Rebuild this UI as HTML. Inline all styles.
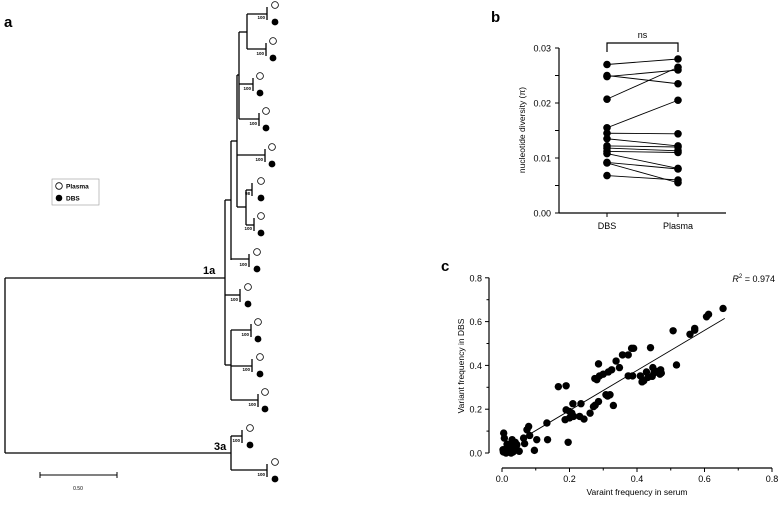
<!DOCTYPE html>
<html><head><meta charset="utf-8"><style>
body{margin:0;background:#fff;}
svg{display:block;font-family:"Liberation Sans",Arial,sans-serif;}
</style></head><body>
<svg id="fig" width="780" height="518" viewBox="0 0 780 518">
<g id="tree" stroke="#000" stroke-width="1.3" fill="none"></g>
<text x="4" y="27" font-size="15" font-weight="bold">a</text>
<text x="491" y="22" font-size="15" font-weight="bold">b</text>
<text x="441" y="271" font-size="15" font-weight="bold">c</text>
<g>
<rect x="52" y="179" width="47" height="26" fill="#fff" stroke="#999" stroke-width="0.6"/>
<circle cx="59" cy="186" r="3.3" fill="#fff" stroke="#000" stroke-width="0.8"/>
<text x="66" y="188.5" font-size="6.5" font-weight="bold">Plasma</text>
<circle cx="59" cy="198" r="3.3" fill="#000"/>
<text x="66" y="200.5" font-size="6.5" font-weight="bold">DBS</text>
</g>
<g>
<line x1="40" y1="475" x2="117" y2="475" stroke="#000" stroke-width="1"/>
<line x1="40" y1="472" x2="40" y2="478" stroke="#000" stroke-width="1"/>
<line x1="117" y1="472" x2="117" y2="478" stroke="#000" stroke-width="1"/>
<text x="78" y="490" font-size="5" text-anchor="middle">0.50</text>
</g>
<text x="203" y="274" font-size="11" font-weight="bold">1a</text>
<text x="214" y="450" font-size="11" font-weight="bold">3a</text>
<g id="pb"></g>
<g id="pc"></g>
</svg>
<script>
const pairOpenY=[5,41,76,111,147,181,216,252,287,322,357,392,428,462];
const pairVx=[267,266,253,259,265,252,254,249,240,251,252,258,242,267];
const pairCx=[275,273,260,266,272,261,261,257,248,258,260,265,250,275];
const pairBoot=["100","100","100","100","100","98","100","100","100","100","100","100","100","100"];
const NS="http://www.w3.org/2000/svg";
function mk(tag,attrs,parent){const e=document.createElementNS(NS,tag);for(const k in attrs)e.setAttribute(k,attrs[k]);parent.appendChild(e);return e;}
const fig=document.getElementById('fig');
const tree=document.getElementById('tree');
function seg(x1,y1,x2,y2){const l=mk('line',{x1,y1,x2,y2},tree);

}
for(let i=0;i<pairOpenY.length;i++){
 const yo=pairOpenY[i],yf=yo+17,vx=pairVx[i],cx=pairCx[i];
 seg(vx,yo+2,vx,yf-2);
 const o=mk('circle',{cx,cy:yo,r:3.4,fill:'#fff',stroke:'#000','stroke-width':0.8},fig);
 
 
 const f=mk('circle',{cx,cy:yf,r:3.4,fill:'#000'},fig);
 
 
 const t=mk('text',{x:vx-2,y:yf-3,'font-size':4.5,'text-anchor':'end','font-weight':'bold'},fig);
 t.textContent=pairBoot[i];
 
 
}
seg(5,278,5,453); seg(5,278,225,278); seg(5,453,231,453);
seg(231,436,231,470); seg(231,436,242,436); seg(231,470,267,470);
seg(225,200,225,365); seg(225,200,231,200); seg(225,295,240,295); seg(225,365,231,365);
seg(231,141,231,260); seg(231,141,237,141); seg(231,259,249,259);
seg(237,75,237,207); seg(237,155,265,155); seg(237,207,246,207);
seg(246,190,246,225); seg(246,190,252,190); seg(246,225,254,225);
seg(239,32,239,119); seg(237,75,239,75); seg(239,32,247,32); seg(239,84,253,84); seg(239,119,259,119);
seg(247,14,247,49); seg(247,14,267,14); seg(247,49,266,49);
seg(231,330,231,400); seg(231,330,251,330); seg(231,366,252,366); seg(231,400,258,400);

const bCats=["DBS","Plasma"];
const bDBS=[0.027,0.025,0.0248,0.0207,0.0155,0.0145,0.0135,0.0122,0.0118,0.0112,0.0108,0.0092,0.0091,0.0068];
const bPlasma=[0.028,0.0235,0.026,0.0265,0.0205,0.0144,0.0122,0.012,0.0113,0.011,0.0081,0.008,0.0055,0.006];
const bTicks=[0,0.01,0.02,0.03];
const bTickLabels=["0.00","0.01","0.02","0.03"];
const pb=document.getElementById('pb');
const bY=v=>213-(v/0.03)*165;
const bX=i=>607+i*71;
let e;
e=mk('line',{x1:559,y1:48,x2:559,y2:213,stroke:'#000','stroke-width':1.2},pb);


e=mk('line',{x1:559,y1:213,x2:726,y2:213,stroke:'#000','stroke-width':1.2},pb);


for(let v=0;v<=0.0301;v+=0.005){mk('line',{x1:555,y1:bY(v),x2:559,y2:bY(v),stroke:'#000','stroke-width':1},pb);}
bTicks.forEach((v,i)=>{const t=mk('text',{x:551,y:bY(v)+3.5,'font-size':9,'text-anchor':'end'},pb);t.textContent=bTickLabels[i];

});
bCats.forEach((c,i)=>{mk('line',{x1:bX(i),y1:213,x2:bX(i),y2:217,stroke:'#000'},pb);
const t=mk('text',{x:bX(i),y:229,'font-size':9,'text-anchor':'middle'},pb);t.textContent=c;

});
e=mk('text',{x:0,y:0,'font-size':8.5,'text-anchor':'middle',transform:'translate(525,130) rotate(-90)'},pb);
e.textContent='nucleotide diversity (π)';


e=mk('path',{d:`M${bX(0)},52 V43 H${bX(1)} V52`,fill:'none',stroke:'#000','stroke-width':1.2},pb);


e=mk('text',{x:(bX(0)+bX(1))/2,y:38,'font-size':9,'text-anchor':'middle'},pb);e.textContent='ns';


bDBS.forEach((v,i)=>{const l=mk('line',{x1:bX(0),y1:bY(v),x2:bX(1),y2:bY(bPlasma[i]),stroke:'#000','stroke-width':0.9},pb);

});
bDBS.forEach((v,i)=>{[v,bPlasma[i]].forEach((w,j)=>{const c=mk('circle',{cx:bX(j),cy:bY(w),r:3.8,fill:'#000'},pb);

});});

const cSerum=[0.655,0.612,0.606,0.571,0.571,0.557,0.507,0.517,0.44,0.445,0.42,0.432,0.415,0.45,0.46,0.47,0.472,0.468,0.447,0.428,0.41,0.384,0.39,0.374,0.357,0.338,0.348,0.374,0.387,0.325,0.315,0.3,0.289,0.281,0.275,0.286,0.308,0.32,0.313,0.33,0.286,0.271,0.276,0.261,0.243,0.23,0.21,0.234,0.212,0.2,0.19,0.2,0.207,0.187,0.167,0.19,0.196,0.133,0.135,0.103,0.096,0.079,0.074,0.082,0.064,0.067,0.051,0.044,0.039,0.005,0.007,0.003,0.008,0.012,0.017,0.022,0.03,0.035,0.027,0.02,0.01,0.015,0.03,0.037,0.042,0.015,0.025,0.033,0.004,0.02];
const cDBS=[0.66,0.633,0.622,0.569,0.561,0.542,0.558,0.402,0.481,0.35,0.33,0.345,0.325,0.365,0.372,0.38,0.365,0.36,0.39,0.37,0.352,0.478,0.478,0.448,0.448,0.42,0.39,0.352,0.352,0.38,0.37,0.36,0.352,0.335,0.34,0.407,0.266,0.266,0.26,0.217,0.235,0.212,0.218,0.182,0.155,0.167,0.225,0.225,0.167,0.16,0.197,0.19,0.182,0.152,0.303,0.307,0.049,0.137,0.061,0.061,0.012,0.121,0.106,0.08,0.068,0.043,0.008,0.038,0.049,0.091,0.068,0.015,0.008,0.0,0.03,0.02,0.061,0.038,0.0,0.012,0.003,0.025,0.01,0.02,0.03,0.04,0.035,0.005,0.005,0.015];
const cXTicks=[0,0.2,0.4,0.6,0.8];
const cXTickLabels=["0.0","0.2","0.4","0.6","0.8"];
const cYTicks=[0,0.2,0.4,0.6,0.8];
const cYTickLabels=["0.0","0.2","0.4","0.6","0.8"];
const cFit=[0.915,0.011];
const cFitRange=[0.07,0.66];
const pc=document.getElementById('pc');
const cX=v=>502+v*337.5;
const cY=v=>453-v*219;
e=mk('line',{x1:489,y1:cY(0.8),x2:489,y2:cY(0),stroke:'#000','stroke-width':1.2},pc);


e=mk('line',{x1:cX(0),y1:468,x2:cX(0.8),y2:468,stroke:'#000','stroke-width':1.2},pc);


cYTicks.forEach((v,i)=>{mk('line',{x1:485,y1:cY(v),x2:489,y2:cY(v),stroke:'#000'},pc);
if(i<cYTicks.length-1)mk('line',{x1:486.5,y1:cY(v+0.1),x2:489,y2:cY(v+0.1),stroke:'#000'},pc);
const t=mk('text',{x:482,y:cY(v)+3.5,'font-size':9,'text-anchor':'end'},pc);t.textContent=cYTickLabels[i];

});
cXTicks.forEach((v,i)=>{mk('line',{x1:cX(v),y1:468,x2:cX(v),y2:472,stroke:'#000'},pc);
if(i<cXTicks.length-1)mk('line',{x1:cX(v+0.1),y1:468,x2:cX(v+0.1),y2:470.5,stroke:'#000'},pc);
const t=mk('text',{x:cX(v),y:482,'font-size':9,'text-anchor':'middle'},pc);t.textContent=cXTickLabels[i];

});
e=mk('text',{x:cX(0.4),y:495,'font-size':8.5,'text-anchor':'middle'},pc);e.textContent='Varaint frequency in serum';


e=mk('text',{x:0,y:0,'font-size':8.5,'text-anchor':'middle',transform:'translate(464,366) rotate(-90)'},pc);e.textContent='Variant frequency in DBS';


e=mk('text',{x:775,y:282,'font-size':9,'text-anchor':'end'},pc);
e.innerHTML='<tspan font-style="italic">R</tspan><tspan font-size="6" dy="-4">2</tspan><tspan dy="4"> = 0.974</tspan>';


e=mk('line',{x1:cX(cFitRange[0]),y1:cY(cFit[0]*cFitRange[0]+cFit[1]),x2:cX(cFitRange[1]),y2:cY(cFit[0]*cFitRange[1]+cFit[1]),stroke:'#000','stroke-width':0.9},pc);


cSerum.forEach((v,i)=>{const c=mk('circle',{cx:cX(v),cy:cY(cDBS[i]),r:3.7,fill:'#000'},pc);

});
</script>
</body></html>
